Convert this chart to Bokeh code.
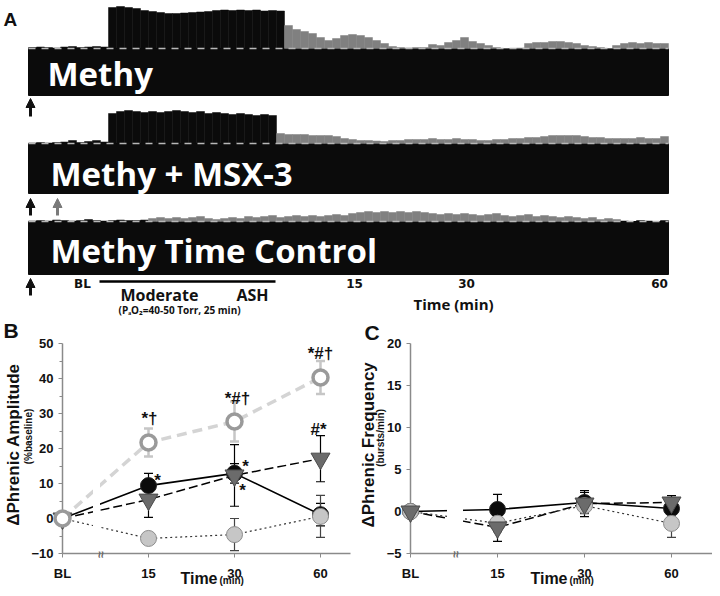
import math
from bokeh.plotting import figure
from bokeh.models import Range1d, FixedTicker, Arrow, NormalHead, Whisker, TeeHead, ColumnDataSource
from bokeh.core.properties import value
from bokeh.layouts import column, row
from bokeh.embed import file_html
from bokeh.resources import INLINE

# ---------------- data ----------------
# Panel A: integrated phrenic traces, height above baseline per 8-px time bin
methy_trace = [1, 1.5, 1, 0.5, 1.5, 2, 1, 1.5, 2, 1.5,
               41, 42, 41, 40, 38, 37, 36, 35, 35, 35.5, 36, 36.5, 37, 38, 38.5, 38, 38.5, 38, 38.5, 37.5, 38, 37.5,
               23, 19, 17, 15, 11, 8, 10, 13, 14, 13, 11, 8, 5, 2, 1, 0.5, 1, 1, 4, 3,
               6, 8, 11, 7, 5, 3, 1, 0, 0, 0.5, 5, 6, 6, 7, 7, 6, 5, 3, 2, 1,
               0, 3, 5, 6, 5, 6, 5, 5]
methy_recovery = (32, 80)          # bins drawn gray (post-hypoxia)
msx3_trace = [0.5, 1, 0.5, 1, 1.5, 3, 1, 2, 3, 1.5,
              30, 32, 33, 32, 31, 32, 31, 32, 33, 32, 31, 32, 30, 31, 30, 29, 30, 29, 28, 29, 28,
              10, 9, 9, 9, 8, 8, 8, 7, 5, 4, 3, 3, 2.5, 2, 3, 3, 4, 4, 4, 5,
              4, 4, 5, 4, 4, 3, 3, 4, 4, 5, 5, 6, 6, 7, 8, 8, 8, 8, 7, 6,
              6, 5, 5, 5, 5, 6, 5, 5, 7]
msx3_recovery = (31, 80)
control_trace = [0.5, 1, 0.5, 1.5, 1, 0.5, 1, 2, 1, 0.5, 1, 1.5, 1, 1, 1.5,
                 3, 4, 3, 4, 3, 4, 5, 3, 2, 3, 4, 3, 5, 4, 5, 6, 4, 5, 6, 5,
                 6, 5, 6, 7, 6, 8, 9, 10, 9, 10, 9, 10, 9, 10, 9, 8, 7, 8, 7, 8,
                 7, 6, 7, 8, 6, 5, 6, 7, 5, 6, 5, 4, 5, 4, 3, 4, 2, 3, 2,
                 0.5, 0, 1, 0.5, 0, 1]
control_recovery = (15, 74)
trace_names = ["Methy", "Methy + MSX-3", "Methy Time Control"]
trace_time_labels = ["BL", "15", "30", "60"]

# Panels B and C
time_labels = ["BL", "15", "30", "60"]
time_pos = [0, 1, 2, 3]

amp_methy = [0, 9.4, 12.9, 1.1]
amp_methy_err = [0, 3.5, 2.8, 3.2]
amp_msx3 = [0, 5.4, 12.3, 17.1]
amp_msx3_err = [0, 5.1, 8.8, 6.6]
amp_vehicle = [0, 21.7, 27.7, 40.3]
amp_vehicle_err = [0, 4.0, 5.7, 4.7]
amp_control = [0, -5.7, -4.6, 0.6]
amp_control_err = [0, 1.5, 4.6, 6.0]

freq_methy = [0, 0.24, 1.07, 0.36]
freq_methy_err = [0, 1.8, 1.2, 0.6]
freq_msx3 = [0, -1.9, 0.95, 1.07]
freq_msx3_err = [0, 1.65, 1.55, 0.83]
freq_control = [0, -1.4, 0.7, -1.42]
freq_control_err = [0, 1.0, 0.95, 1.66]

BLACK = "#0b0b0b"
GRAY = "#808080"
BOLD_FONT = "Liberation Sans"


def txt(p, x, y, text, size, font=BOLD_FONT, style="bold", align="center", angle=0.0,
        color="#111111"):
    p.text(x=[x], y=[y], text=[text], text_font=value(font), text_font_style=style,
           text_font_size=value(size), text_align=align, text_baseline="middle",
           angle=angle, text_color=color, level="overlay")


# ---------------- Panel A ----------------
pa = figure(width=712, height=316, x_range=Range1d(0, 712), y_range=Range1d(316, 0),
            output_backend="svg", toolbar_location=None, min_border=0,
            x_axis_location=None, y_axis_location=None)
pa.grid.visible = False
pa.outline_line_color = None

X0, BW = 28, 8
layout_a = [  # baseline, bottom of box, text x, text centre y
    (methy_trace, methy_recovery, 48, 95, 47, 73),
    (msx3_trace, msx3_recovery, 143, 193, 50, 173),
    (control_trace, control_recovery, 221, 274, 50, 250),
]
for (heights, (g0, g1), base, bottom, tx, ty), name in zip(layout_a, trace_names):
    n = len(heights)
    pa.quad(left=[X0], right=[X0 + BW * n], top=[base], bottom=[bottom],
            fill_color=BLACK, line_color=BLACK)
    lefts = [X0 + i * BW for i in range(n)]
    cols = [GRAY if g0 <= i < g1 else BLACK for i in range(n)]
    pa.quad(left=lefts, right=[l + BW for l in lefts], bottom=[base] * n,
            top=[base - h for h in heights], fill_color=cols, line_color=cols, line_width=0.5)
    pa.line([X0, X0 + BW * n], [base, base], line_color="#b8b8b8", line_width=1.5, line_dash="7 6")
    txt(pa, tx, ty, name, "33px", font="Open Sans", style="bold", align="left", color="white")

for ax, y0, y1, col in [(30, 116, 98, "#111111"), (30, 215, 198, "#111111"),
                        (57, 215, 198, "#7a7a7a"), (30, 295, 278, "#111111")]:
    pa.add_layout(Arrow(end=NormalHead(size=9, fill_color=col, line_color=col),
                        x_start=ax, y_start=y0, x_end=ax, y_end=y1,
                        line_width=3, line_color=col))

txt(pa, 3, 19, "A", "19px", align="left")
for lab_, xc in zip(trace_time_labels, [82, 354, 466, 659]):
    txt(pa, xc, 283, lab_, "12px", font="DejaVu Sans")
pa.line([99, 275], [281, 281], line_color="black", line_width=2.5)
txt(pa, 120, 294.5, "Moderate", "16px", font="Open Sans", align="left")
txt(pa, 236, 294.5, "ASH", "16px", font="Open Sans", align="left")
txt(pa, 118, 309, "(PₐO₂=40-50 Torr, 25 min)", "10px", font="Open Sans", align="left")
txt(pa, 413, 303, "Time (min)", "15px", font="Open Sans", align="left")


# ---------------- Panels B and C ----------------
def panel(width, height, ppx, left, right, ylo, yhi, top, bottom, yticks, yminor):
    xe = (width - left - right) / ppx
    p = figure(width=width, height=height, x_range=Range1d(0, xe), y_range=Range1d(ylo, yhi),
               output_backend="svg", toolbar_location=None,
               min_border_left=left, min_border_right=right,
               min_border_top=top, min_border_bottom=bottom)
    p.grid.visible = False
    p.outline_line_color = None
    p.yaxis.ticker = FixedTicker(ticks=yticks, minor_ticks=yminor)
    p.xaxis.ticker = FixedTicker(ticks=time_pos)
    p.xaxis.major_label_overrides = {t: l for t, l in zip(time_pos, time_labels)}
    for a in (p.xaxis[0], p.yaxis[0]):
        a.axis_line_color = "#8a8a8a"
        a.axis_line_width = 1.5
        a.major_tick_line_color = "#8a8a8a"
        a.minor_tick_line_color = "#8a8a8a"
        a.major_tick_out = 4
        a.major_tick_in = 0
        a.minor_tick_out = 3
        a.minor_tick_in = 0
        a.major_label_text_font = BOLD_FONT
        a.major_label_text_font_style = "bold"
        a.major_label_text_font_size = "13px"
        a.major_label_text_color = "#111111"
    p.yaxis.major_label_standoff = 5
    p.xaxis.major_label_standoff = 8
    return p


def add_series(p, y, err, marker, size, fill, line, lw, line_color, line_width, dash,
               err_color, err_width):
    p.line(time_pos, y, line_color=line_color, line_width=line_width, line_dash=dash)
    src = ColumnDataSource(dict(x=time_pos[1:], up=[v + e for v, e in zip(y[1:], err[1:])],
                                lo=[v - e for v, e in zip(y[1:], err[1:])]))
    p.add_layout(Whisker(base="x", upper="up", lower="lo", source=src, line_color=err_color,
                         line_width=err_width,
                         upper_head=TeeHead(size=9, line_color=err_color, line_width=err_width),
                         lower_head=TeeHead(size=9, line_color=err_color, line_width=err_width)))
    return (y, marker, size, fill, line, lw)


def draw_markers(p, specs):
    for ys, marker, size, fill, line, lw in specs:
        p.scatter(time_pos, ys, marker=marker, size=size, fill_color=fill, line_color=line,
                  line_width=lw, level="overlay")


# Panel B (figure origin at picture x=0, y=316)
def bx(rx): return (rx - 62) / 86
def by(ry): return (518 - ry) / 3.5

pb = panel(360, 272, 86, 62, 10, -10, 50, 27, 35,
           list(range(-10, 51, 10)), list(range(-5, 50, 10)))
specs_b = [
    add_series(pb, amp_methy, amp_methy_err, "circle", 16, BLACK, "#222222", 1, "black", 1.6, "solid", "black", 1.2),
    add_series(pb, amp_msx3, amp_msx3_err, "inverted_triangle", 19, "#6b6b6b", "#4a4a4a", 1, "black", 1.5, "9 4", "black", 1.2),
    add_series(pb, amp_control, amp_control_err, "circle", 16, "#c6c6c6", "#8c8c8c", 1, "#333333", 1.2, "2 3", "#444444", 1.2),
    add_series(pb, amp_vehicle, amp_vehicle_err, "circle", 15, "white", "#9a9a9a", 3.5, "#d4d4d4", 3.5, "10 6", "#c6c6c6", 2.5),
]
pb.quad(left=[bx(93)], right=[bx(99)], bottom=[-9.6], top=[50], fill_color="white", line_color="white")
draw_markers(pb, specs_b)

txt(pb, bx(3), by(330), "B", "21px", align="left")
txt(pb, bx(13), by(444), "ΔPhrenic Amplitude", "17px", angle=math.pi / 2)
txt(pb, bx(28), by(436), "(%baseline)", "10px", angle=math.pi / 2)
txt(pb, bx(217), by(578), "Time", "16px", align="right")
txt(pb, bx(219), by(580), "(min)", "10px", align="left")
txt(pb, bx(100), by(554), "≈", "12px", angle=math.pi / 2, color="#666666")
for t, rx, ry in [("*†", 149, 418), ("*#†", 237, 398), ("*#†", 320, 353), ("#*", 318, 429),
                  ("*", 157, 480), ("*", 245, 466), ("*", 242, 490)]:
    txt(pb, bx(rx), by(ry), t, "17px")


# Panel C (figure origin at picture x=360, y=316)
def cx(rx): return (rx - 410) / 87
def cy(ry): return (511 - ry) / 8.44

pc = panel(352, 272, 87, 50, 0, -5, 20, 26, 35, list(range(-5, 21, 5)), [])
specs_c = [
    add_series(pc, freq_methy, freq_methy_err, "circle", 16, BLACK, "#222222", 1, "black", 1.6, "solid", "black", 1.2),
    add_series(pc, freq_msx3, freq_msx3_err, "inverted_triangle", 19, "#6b6b6b", "#4a4a4a", 1, "black", 1.5, "9 4", "black", 1.2),
    add_series(pc, freq_control, freq_control_err, "circle", 16, "#c6c6c6", "#8c8c8c", 1, "#333333", 1.2, "2 3", "#444444", 1.2),
]
pc.quad(left=[cx(447)], right=[cx(462)], bottom=[-4.8], top=[20], fill_color="white", line_color="white")
draw_markers(pc, [specs_c[0], specs_c[2], specs_c[1]])

txt(pc, cx(364), cy(331), "C", "21px", align="left")
txt(pc, cx(368), cy(444), "ΔPhrenic Frequency", "17px", angle=math.pi / 2)
txt(pc, cx(380), cy(437), "(bursts/min)", "10px", angle=math.pi / 2)
txt(pc, cx(567), cy(578), "Time", "16px", align="right")
txt(pc, cx(569), cy(580), "(min)", "10px", align="left")
txt(pc, cx(455), cy(554), "≈", "12px", angle=math.pi / 2, color="#666666")

layout = column(pa, row(pb, pc))
open("out.html", "w").write(file_html(layout, INLINE))
